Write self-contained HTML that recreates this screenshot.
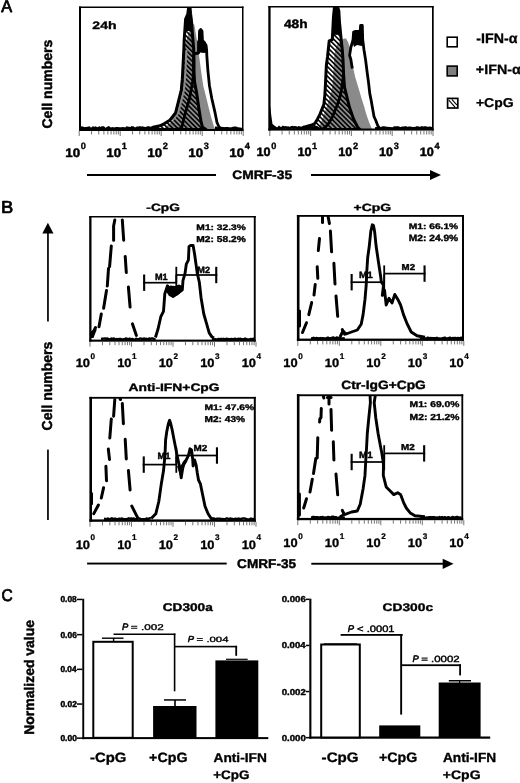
<!DOCTYPE html>
<html><head><meta charset="utf-8"><title>Figure</title>
<style>html,body{margin:0;padding:0;background:#fff;width:520px;height:783px;overflow:hidden}</style>
</head><body>
<svg width="520" height="783" viewBox="0 0 520 783" style="display:block;font-kerning:none;text-rendering:geometricPrecision;filter:grayscale(1)">
<defs>
<pattern id="hatch" patternUnits="userSpaceOnUse" width="3.4" height="3.4" patternTransform="rotate(-45)">
<rect x="0" y="0" width="1.6" height="3.4" fill="#000"/></pattern>
<pattern id="hatchL" patternUnits="userSpaceOnUse" width="3.2" height="3.2" patternTransform="rotate(-45)">
<rect x="0" y="0" width="1.4" height="3.2" fill="#000"/></pattern>
<clipPath id="cA1"><rect x="80" y="7.5" width="162.5" height="122"/></clipPath>
<clipPath id="cA2"><rect x="270" y="7" width="162.5" height="122"/></clipPath>
<clipPath id="cB1"><rect x="91" y="217" width="163.5" height="123"/></clipPath>
<clipPath id="cB2"><rect x="299" y="216" width="163.5" height="123"/></clipPath>
<clipPath id="cB3"><rect x="91" y="398" width="163.5" height="122"/></clipPath>
<clipPath id="cB4"><rect x="299" y="395.5" width="163" height="123"/></clipPath>
</defs>
<g clip-path="url(#cA1)">
<polygon points="163.0,129.5 168.0,125.0 173.0,120.0 176.0,113.0 178.5,100.0 180.6,86.0 183.0,70.0 185.0,47.0 187.0,38.0 189.5,30.0 192.0,25.0 193.4,23.5 194.4,25.0 195.8,33.8 197.8,45.0 199.0,55.3 201.0,70.6 203.3,86.0 206.5,98.5 209.0,109.0 211.3,117.7 214.2,127.3 216.0,129.5" fill="#8a8a8a"/>
<polygon points="148.0,129.5 153.0,127.3 160.0,125.8 164.5,123.6 169.8,120.2 172.8,116.5 175.5,113.0 178.4,101.5 181.3,90.0 182.3,79.2 183.3,60.0 183.8,50.0 184.2,39.6 185.0,28.0 185.6,19.2 187.8,14.0 189.1,4.0 189.7,4.0 190.6,14.0 191.5,21.0 192.5,35.0 193.6,47.7 194.0,60.0 194.0,72.0 194.6,82.0 196.5,92.0 198.8,108.0 201.2,122.5 202.6,127.3 206.0,129.5" fill="url(#hatch)"/>
<polygon points="187.8,14.0 189.1,4.0 189.7,4.0 190.6,14.0 191.5,21.0 192.0,31.0 185.0,31.0 185.6,19.2" fill="#000"/>
<polyline points="172.4,120.2 175.4,116.5 178.1,113.0 181.0,101.5 183.9,90.0 184.9,79.2 185.9,60.0 186.4,50.0" fill="none" stroke="#8a8a8a" stroke-width="2.2"/>
<polygon points="148.0,129.5 153.0,127.3 160.0,125.8 164.5,123.6 169.8,120.2 172.8,116.5 175.5,113.0 178.4,101.5 181.3,90.0 182.3,79.2 183.3,60.0 183.8,50.0 184.2,39.6 185.0,28.0 185.6,19.2 187.8,14.0 189.1,4.0 189.7,4.0 190.6,14.0 191.5,21.0 192.5,35.0 193.6,47.7 194.0,60.0 194.0,72.0 194.6,82.0 196.5,92.0 198.8,108.0 201.2,122.5 202.6,127.3 206.0,129.5" fill="none" stroke="#000" stroke-width="3" stroke-linejoin="round"/>
<polyline points="175.0,129.5 181.5,128.5 183.0,122.5 185.3,113.0 189.6,98.5 192.5,82.0 193.5,75.0 193.6,55.0 195.5,53.5 198.5,53.0 198.5,41.5 199.3,41.0 199.5,31.0 200.8,29.5 202.0,31.0 202.5,41.0 204.0,41.9 206.1,45.4 206.7,51.0 206.8,55.3 207.9,70.6 209.5,86.0 211.8,98.5 215.1,112.9 217.0,122.5 219.0,127.0 222.0,129.5" fill="none" stroke="#000" stroke-width="2.8" stroke-linejoin="round"/>
<polygon points="199.2,30.5 202.0,30.5 202.6,41.0 204.0,41.5 206.3,45.0 206.5,52.5 204.0,53.0 200.0,52.5 198.6,53.0 198.3,45.0 198.6,41.0 199.0,40.5" fill="#000"/>
<polyline points="80.0,128.8 81.3,127.6 82.6,127.8 83.9,128.6 85.2,128.2 86.5,128.3 87.8,128.0 89.1,127.7 90.4,128.8 91.7,129.0 93.0,127.7 94.3,128.3 95.6,127.8 96.9,129.0 98.2,128.3 99.5,127.8 100.8,128.6 102.1,127.5 103.4,127.6 104.7,129.0 106.0,129.0 107.3,128.1 108.6,127.5 109.9,128.4 111.2,128.7 112.5,128.3 113.8,129.0 115.1,128.6 116.4,128.3 117.7,128.2 119.0,128.6 120.3,128.6 121.6,128.6 122.9,128.3 124.2,128.5 125.5,129.0 126.8,127.7 128.1,128.1 129.4,128.0 130.7,128.7 132.0,127.4 133.3,127.6 134.6,128.8 135.9,128.5 137.2,127.8 138.5,127.9 139.8,127.5 141.1,128.3 142.4,127.7 143.7,127.9 145.0,128.5 146.3,128.1 147.6,127.6 148.9,127.6 150.2,128.2 151.5,128.1 152.8,128.9 154.1,128.6 155.4,127.7 156.7,128.3 158.0,128.7 159.3,128.1" fill="none" stroke="#000" stroke-width="2.6"/>
<polyline points="215.0,127.9 216.3,127.9 217.6,128.9 218.9,128.9 220.2,128.0 221.5,128.1 222.8,128.2 224.1,128.6 225.4,128.3 226.7,128.3 228.0,128.3 229.3,128.8 230.6,128.5 231.9,128.5 233.2,128.1 234.5,127.8 235.8,127.9 237.1,128.3 238.4,128.5 239.7,128.7 241.0,129.0 242.3,129.0" fill="none" stroke="#000" stroke-width="2.6"/>
</g>
<g clip-path="url(#cA2)">
<polygon points="318.0,129.5 320.0,125.0 323.5,116.0 327.0,106.0 331.0,93.6 332.5,85.0 333.5,70.0 334.0,60.0 335.0,50.0 337.5,44.0 341.0,40.0 344.4,38.5 346.1,38.5 348.0,42.0 350.0,47.7 350.5,55.0 351.5,60.0 353.0,67.0 355.3,77.5 358.8,89.0 362.2,100.5 364.0,106.0 366.5,115.0 369.0,122.0 371.5,128.0 372.5,129.5" fill="#8a8a8a"/>
<polygon points="298.0,129.5 304.0,127.3 311.0,125.3 314.8,123.5 317.7,118.7 320.1,113.8 322.0,109.0 323.9,104.2 324.9,94.6 325.4,85.0 325.9,75.0 326.4,65.0 327.5,56.9 329.2,40.8 332.3,39.6 333.5,16.5 334.8,4.0 336.5,4.0 338.8,10.8 339.5,22.3 341.2,39.6 342.4,51.0 343.0,60.0 343.7,76.0 344.5,87.0 349.4,107.0 353.5,119.0 357.5,127.0 360.0,129.5" fill="url(#hatch)" stroke="#000" stroke-width="3" stroke-linejoin="round"/>
<polyline points="322.0,129.5 327.5,125.0 331.9,118.0 337.3,105.0 340.5,95.0 342.9,80.0 343.6,75.0" fill="none" stroke="#000" stroke-width="2.8" stroke-linejoin="round"/>
<polyline points="352.3,68.5 350.8,59.2 349.6,55.4 350.8,47.7 353.0,40.0 353.6,32.0 355.0,31.5 358.8,31.5 360.0,33.0 360.6,25.5 362.3,25.5 362.7,39.6 364.0,50.0 365.6,60.0 367.3,73.5 368.6,83.0 369.8,93.6 371.2,100.5 372.3,107.0 373.0,110.8 374.0,116.5 375.6,120.0 378.0,126.2 380.5,129.5" fill="none" stroke="#000" stroke-width="2.8" stroke-linejoin="round"/>
<polygon points="353.5,31.0 358.8,30.5 360.0,33.0 360.5,25.0 362.5,25.0 363.0,40.0 362.0,46.0 357.0,45.0 354.0,47.0 352.5,42.0" fill="#000"/>
<polygon points="333.8,5.0 336.5,5.0 339.2,10.8 339.8,22.3 340.3,34.0 336.0,35.0 333.0,34.0 333.6,16.5" fill="#000"/>
<polygon points="270.0,105.0 271.5,117.0 272.5,124.0 275.0,126.0 275.0,130.0 270.0,130.0" fill="#000"/>
<polyline points="270.0,128.2 271.3,127.7 272.6,128.0 273.9,127.6 275.2,127.6 276.5,128.5 277.8,128.6 279.1,127.3 280.4,128.2 281.7,128.2 283.0,127.0 284.3,127.8 285.6,127.3 286.9,127.8 288.2,127.6 289.5,128.4 290.8,127.6 292.1,127.2 293.4,127.8 294.7,127.4 296.0,127.5 297.3,128.5 298.6,127.4 299.9,127.7 301.2,128.1 302.5,128.6 303.8,127.2 305.1,127.8 306.4,127.4 307.7,127.2 309.0,127.5 310.3,127.1 311.6,128.0 312.9,127.3 314.2,127.9 315.5,127.1 316.8,127.2 318.1,128.4 319.4,128.4" fill="none" stroke="#000" stroke-width="2.6"/>
<polyline points="375.0,128.3 376.3,128.5 377.6,128.1 378.9,128.4 380.2,128.5 381.5,128.1 382.8,127.5 384.1,127.6 385.4,127.7 386.7,128.3 388.0,128.0 389.3,128.3 390.6,128.4 391.9,128.5 393.2,128.3 394.5,127.5 395.8,127.6 397.1,127.6 398.4,127.6 399.7,128.4 401.0,128.2 402.3,127.8 403.6,127.7 404.9,127.6 406.2,127.5 407.5,128.5 408.8,127.9 410.1,127.8 411.4,128.0 412.7,128.4 414.0,128.0 415.3,128.5 416.6,127.5 417.9,127.6 419.2,127.9 420.5,128.2 421.8,127.5 423.1,127.9 424.4,127.5 425.7,127.6 427.0,128.0 428.3,128.1 429.6,127.9 430.9,128.1 432.2,128.4" fill="none" stroke="#000" stroke-width="2.6"/>
</g>
<g clip-path="url(#cB1)">
<polyline points="114.8,220.0 113.6,226.0 113.6,240.2" fill="none" stroke="#000" stroke-width="3.0" stroke-linecap="round" stroke-linejoin="round"/>
<polyline points="111.3,246.0 109.6,266.7" fill="none" stroke="#000" stroke-width="3.0" stroke-linecap="round" stroke-linejoin="round"/>
<polyline points="108.5,268.5 107.3,286.0" fill="none" stroke="#000" stroke-width="3.0" stroke-linecap="round" stroke-linejoin="round"/>
<polyline points="106.5,290.4 103.6,308.3" fill="none" stroke="#000" stroke-width="3.0" stroke-linecap="round" stroke-linejoin="round"/>
<polyline points="101.3,314.0 99.0,326.7" fill="none" stroke="#000" stroke-width="3.0" stroke-linecap="round" stroke-linejoin="round"/>
<polyline points="95.5,327.5 91.8,335.4" fill="none" stroke="#000" stroke-width="3.0" stroke-linecap="round" stroke-linejoin="round"/>
<polyline points="122.3,220.0 123.7,240.2" fill="none" stroke="#000" stroke-width="3.0" stroke-linecap="round" stroke-linejoin="round"/>
<polyline points="125.2,256.4 126.3,272.5" fill="none" stroke="#000" stroke-width="3.0" stroke-linecap="round" stroke-linejoin="round"/>
<polyline points="128.4,287.0 130.1,307.1" fill="none" stroke="#000" stroke-width="3.0" stroke-linecap="round" stroke-linejoin="round"/>
<polyline points="132.4,323.8 136.4,335.4" fill="none" stroke="#000" stroke-width="3.0" stroke-linecap="round" stroke-linejoin="round"/>
<polyline points="101.0,338.9 102.3,338.7 103.6,338.6 104.9,338.5 106.2,338.7 107.5,338.5 108.8,339.6 110.1,339.0 111.4,338.5 112.7,338.8 114.0,338.5 115.3,339.5 116.6,339.0 117.9,339.3 119.2,338.9 120.5,338.9 121.8,339.6 123.1,339.3 124.4,339.3 125.7,338.5 127.0,338.7 128.3,339.4 129.6,338.6 130.9,339.4 132.2,338.9 133.5,339.4 134.8,339.6 136.1,338.6 137.4,339.3 138.7,339.3 140.0,338.4 141.3,338.6 142.6,339.3 143.9,338.4 145.2,339.0 146.5,338.8 147.8,339.4 149.1,338.5 150.4,338.8 151.7,338.4 153.0,338.5 154.3,339.2 155.6,339.2" fill="none" stroke="#000" stroke-width="2.4" stroke-linejoin="round"/>
<polygon points="91.0,338.0 91.0,331.5 94.0,329.0 96.8,329.5 95.0,334.0 93.5,338.0" fill="#000"/>
<polyline points="155.4,337.5 158.1,328.8 160.8,316.7 163.5,311.3 164.8,293.8 167.5,285.8 170.2,293.8 172.9,296.5 176.9,293.8 182.3,289.8 183.0,280.4 185.0,273.6 186.3,264.2 188.4,260.2 189.0,246.7 190.4,245.5 193.1,245.5 194.5,253.5 197.3,273.6 199.3,282.0 201.1,297.9 203.8,314.0 206.5,323.4 209.2,332.9 211.9,336.9 214.0,338.0" fill="none" stroke="#000" stroke-width="2.9" stroke-linejoin="round"/>
<polygon points="167.0,288.0 170.0,285.5 175.0,286.0 179.0,284.5 182.5,286.0 182.5,291.0 178.0,295.0 173.0,297.5 169.0,296.0 166.5,292.0" fill="#000"/>
<polyline points="212.0,338.8 213.3,338.8 214.6,339.1 215.9,339.3 217.2,339.6 218.5,338.9 219.8,339.1 221.1,338.8 222.4,339.2 223.7,338.8 225.0,339.3 226.3,338.8 227.6,338.9 228.9,339.2 230.2,339.1 231.5,338.9 232.8,339.4 234.1,339.0 235.4,338.8 236.7,339.3 238.0,338.8 239.3,338.9 240.6,338.8 241.9,339.3 243.2,339.5 244.5,338.8 245.8,338.8 247.1,339.2 248.4,339.5 249.7,339.4 251.0,339.0 252.3,339.3 253.6,338.6 254.9,339.0" fill="none" stroke="#000" stroke-width="2.4" stroke-linejoin="round"/>
</g>
<g clip-path="url(#cB2)">
<polyline points="322.5,217.0 322.5,222.5" fill="none" stroke="#000" stroke-width="3.0" stroke-linecap="round" stroke-linejoin="round"/>
<polyline points="319.5,238.5 318.3,250.6" fill="none" stroke="#000" stroke-width="3.0" stroke-linecap="round" stroke-linejoin="round"/>
<polyline points="317.2,266.7 317.8,278.3" fill="none" stroke="#000" stroke-width="3.0" stroke-linecap="round" stroke-linejoin="round"/>
<polyline points="315.2,284.6 314.0,295.0" fill="none" stroke="#000" stroke-width="3.0" stroke-linecap="round" stroke-linejoin="round"/>
<polyline points="311.7,302.5 308.8,314.6" fill="none" stroke="#000" stroke-width="3.0" stroke-linecap="round" stroke-linejoin="round"/>
<polyline points="306.5,322.7 302.5,332.5" fill="none" stroke="#000" stroke-width="3.0" stroke-linecap="round" stroke-linejoin="round"/>
<polyline points="299.5,311.0 299.5,326.0" fill="none" stroke="#000" stroke-width="3.0" stroke-linecap="round" stroke-linejoin="round"/>
<polyline points="328.2,217.0 329.4,223.5" fill="none" stroke="#000" stroke-width="3.0" stroke-linecap="round" stroke-linejoin="round"/>
<polyline points="330.4,231.0 331.6,251.8" fill="none" stroke="#000" stroke-width="3.0" stroke-linecap="round" stroke-linejoin="round"/>
<polyline points="333.9,263.3 335.0,284.0" fill="none" stroke="#000" stroke-width="3.0" stroke-linecap="round" stroke-linejoin="round"/>
<polyline points="336.0,296.0 337.7,316.3" fill="none" stroke="#000" stroke-width="3.0" stroke-linecap="round" stroke-linejoin="round"/>
<polyline points="342.3,329.6 344.6,334.2" fill="none" stroke="#000" stroke-width="3.0" stroke-linecap="round" stroke-linejoin="round"/>
<polyline points="311.0,338.2 312.3,338.4 313.6,337.8 314.9,338.5 316.2,338.0 317.5,338.2 318.8,338.5 320.1,338.0 321.4,338.6 322.7,338.1 324.0,338.5 325.3,338.5 326.6,338.1 327.9,337.6 329.2,338.5 330.5,338.3 331.8,337.8 333.1,337.5 334.4,337.9 335.7,338.1 337.0,337.4 338.3,338.5 339.6,337.6 340.9,338.3 342.2,338.4 343.5,338.5 344.8,338.2" fill="none" stroke="#000" stroke-width="2.4" stroke-linejoin="round"/>
<polyline points="340.0,337.0 343.0,331.0 346.0,334.0 351.5,332.0 357.3,330.0 361.2,324.2 363.1,314.6 365.0,299.2 366.2,285.2 366.9,269.8 367.7,257.5 369.2,246.8 370.8,231.4 372.3,224.8 373.5,225.5 374.6,231.4 376.2,246.8 378.5,262.2 380.8,277.5 381.3,282.0 383.5,285.2 382.3,295.4 384.5,290.0 386.2,305.0 389.0,298.3 392.0,303.0 394.8,294.4 397.7,299.2 400.6,305.0 403.5,314.6 407.3,324.2 411.2,332.0 417.0,335.8 425.0,337.3" fill="none" stroke="#000" stroke-width="2.9" stroke-linejoin="round"/>
<polyline points="420.0,338.4 421.3,337.6 422.6,338.5 423.9,337.9 425.2,338.5 426.5,338.4 427.8,337.6 429.1,338.4 430.4,338.0 431.7,338.1 433.0,338.1 434.3,338.1 435.6,338.4 436.9,337.8 438.2,338.5 439.5,338.4 440.8,338.6 442.1,338.3 443.4,338.2 444.7,337.7 446.0,338.2 447.3,338.5 448.6,338.3 449.9,337.6 451.2,338.5 452.5,338.0 453.8,338.2 455.1,337.9 456.4,338.3 457.7,337.9 459.0,338.1 460.3,338.0 461.6,337.7 462.9,338.0" fill="none" stroke="#000" stroke-width="2.4" stroke-linejoin="round"/>
</g>
<g clip-path="url(#cB3)">
<polyline points="114.8,399.5 113.6,416.2" fill="none" stroke="#000" stroke-width="3.0" stroke-linecap="round" stroke-linejoin="round"/>
<polyline points="111.3,419.0 109.8,438.0" fill="none" stroke="#000" stroke-width="3.0" stroke-linecap="round" stroke-linejoin="round"/>
<polyline points="108.3,449.0 109.5,459.4" fill="none" stroke="#000" stroke-width="3.0" stroke-linecap="round" stroke-linejoin="round"/>
<polyline points="105.9,466.3 106.5,480.8" fill="none" stroke="#000" stroke-width="3.0" stroke-linecap="round" stroke-linejoin="round"/>
<polyline points="103.6,487.7 101.3,498.0" fill="none" stroke="#000" stroke-width="3.0" stroke-linecap="round" stroke-linejoin="round"/>
<polyline points="98.4,505.0 93.8,513.6" fill="none" stroke="#000" stroke-width="3.0" stroke-linecap="round" stroke-linejoin="round"/>
<polyline points="91.5,493.5 91.5,503.8" fill="none" stroke="#000" stroke-width="3.0" stroke-linecap="round" stroke-linejoin="round"/>
<polyline points="120.0,398.5 120.5,399.5" fill="none" stroke="#000" stroke-width="3.0" stroke-linecap="round" stroke-linejoin="round"/>
<polyline points="122.3,403.5 123.4,423.7" fill="none" stroke="#000" stroke-width="3.0" stroke-linecap="round" stroke-linejoin="round"/>
<polyline points="125.2,439.3 126.3,458.9" fill="none" stroke="#000" stroke-width="3.0" stroke-linecap="round" stroke-linejoin="round"/>
<polyline points="128.4,470.4 130.1,490.0" fill="none" stroke="#000" stroke-width="3.0" stroke-linecap="round" stroke-linejoin="round"/>
<polyline points="131.8,506.1 137.6,517.7" fill="none" stroke="#000" stroke-width="3.0" stroke-linecap="round" stroke-linejoin="round"/>
<polyline points="104.0,518.8 105.3,519.0 106.6,519.2 107.9,518.4 109.2,519.4 110.5,518.8 111.8,518.3 113.1,519.3 114.4,518.7 115.7,518.7 117.0,519.4 118.3,518.9 119.6,518.6 120.9,518.9 122.2,518.5 123.5,519.2 124.8,519.1 126.1,519.3 127.4,518.8 128.7,518.3 130.0,518.7 131.3,518.5 132.6,518.9 133.9,518.5 135.2,519.3 136.5,519.1 137.8,518.6 139.1,518.5 140.4,518.9 141.7,519.3 143.0,519.1 144.3,519.1 145.6,519.1 146.9,518.4 148.2,519.2 149.5,518.3 150.8,518.3" fill="none" stroke="#000" stroke-width="2.4" stroke-linejoin="round"/>
<polyline points="151.2,518.5 155.8,513.8 158.8,501.5 161.2,484.6 163.5,470.8 165.0,455.4 165.6,440.0 166.7,432.0 168.3,424.0 169.6,420.3 170.8,424.0 172.2,430.0 173.5,437.0 175.5,447.0 177.0,455.0 178.5,462.0 179.8,468.0 181.2,477.7 182.3,470.8 183.8,463.0 186.2,460.0 188.5,455.4 190.0,448.8 191.5,450.0 192.7,459.2 193.1,466.0 194.6,460.0 196.2,465.4 197.3,473.0 198.5,480.0 200.4,483.8 201.5,489.2 205.0,506.2 208.1,513.8 211.2,518.5 214.2,519.0" fill="none" stroke="#000" stroke-width="2.9" stroke-linejoin="round"/>
<polygon points="177.0,466.0 180.5,477.0 183.5,468.0 187.5,461.0 184.0,461.5 180.0,466.0" fill="#000"/>
<polyline points="212.0,518.8 213.3,519.0 214.6,518.8 215.9,519.2 217.2,518.6 218.5,518.6 219.8,518.7 221.1,519.2 222.4,518.9 223.7,519.1 225.0,519.2 226.3,518.4 227.6,518.4 228.9,519.4 230.2,518.5 231.5,518.8 232.8,519.0 234.1,519.1 235.4,518.7 236.7,518.9 238.0,518.7 239.3,518.7 240.6,519.3 241.9,518.6 243.2,518.4 244.5,518.4 245.8,518.8 247.1,519.4 248.4,519.4 249.7,519.3 251.0,518.5 252.3,519.1 253.6,519.0 254.9,518.5" fill="none" stroke="#000" stroke-width="2.4" stroke-linejoin="round"/>
</g>
<g clip-path="url(#cB4)">
<polyline points="323.5,396.5 323.8,398.0" fill="none" stroke="#000" stroke-width="3.0" stroke-linecap="round" stroke-linejoin="round"/>
<polyline points="327.5,397.5 331.0,397.5" fill="none" stroke="#000" stroke-width="3.0" stroke-linecap="round" stroke-linejoin="round"/>
<polyline points="329.0,397.5 329.0,404.0" fill="none" stroke="#000" stroke-width="3.0" stroke-linecap="round" stroke-linejoin="round"/>
<polyline points="321.3,408.5 321.0,417.5 319.8,419.0 319.6,422.0" fill="none" stroke="#000" stroke-width="3.0" stroke-linecap="round" stroke-linejoin="round"/>
<polyline points="317.8,437.7 317.2,457.9" fill="none" stroke="#000" stroke-width="3.0" stroke-linecap="round" stroke-linejoin="round"/>
<polyline points="315.8,458.5 313.5,473.5" fill="none" stroke="#000" stroke-width="3.0" stroke-linecap="round" stroke-linejoin="round"/>
<polyline points="312.3,479.2 310.0,491.9" fill="none" stroke="#000" stroke-width="3.0" stroke-linecap="round" stroke-linejoin="round"/>
<polyline points="306.5,498.8 303.7,508.0" fill="none" stroke="#000" stroke-width="3.0" stroke-linecap="round" stroke-linejoin="round"/>
<polyline points="299.4,494.0 299.4,515.0" fill="none" stroke="#000" stroke-width="3.0" stroke-linecap="round" stroke-linejoin="round"/>
<polyline points="331.0,409.4 331.6,430.2" fill="none" stroke="#000" stroke-width="3.0" stroke-linecap="round" stroke-linejoin="round"/>
<polyline points="333.3,441.7 333.9,460.0" fill="none" stroke="#000" stroke-width="3.0" stroke-linecap="round" stroke-linejoin="round"/>
<polyline points="336.0,474.0 337.7,494.8" fill="none" stroke="#000" stroke-width="3.0" stroke-linecap="round" stroke-linejoin="round"/>
<polyline points="342.3,510.4 344.0,514.0" fill="none" stroke="#000" stroke-width="3.0" stroke-linecap="round" stroke-linejoin="round"/>
<polyline points="311.0,517.4 312.3,517.2 313.6,516.8 314.9,517.3 316.2,517.3 317.5,517.2 318.8,517.7 320.1,517.3 321.4,517.1 322.7,516.9 324.0,517.8 325.3,517.5 326.6,517.8 327.9,516.9 329.2,517.1 330.5,517.8 331.8,516.7 333.1,516.7 334.4,517.1 335.7,517.2 337.0,517.7 338.3,517.9 339.6,517.3 340.9,517.8 342.2,517.7 343.5,517.6 344.8,517.9" fill="none" stroke="#000" stroke-width="2.4" stroke-linejoin="round"/>
<polyline points="340.0,516.7 343.8,514.8 351.5,512.0 357.3,511.0 360.2,504.2 363.1,488.8 365.0,475.4 365.8,460.0 366.5,448.8 367.3,433.5 368.8,418.0 370.4,402.7 370.0,394.0 375.5,394.0 374.2,402.7 375.8,418.0 378.1,433.5 380.4,445.8 381.9,453.5 383.5,464.2 383.3,475.4 386.2,487.0 390.0,490.8 393.8,494.6 397.7,492.7 400.6,494.6 403.5,502.3 406.3,508.0 410.2,512.9 415.0,515.8 425.0,516.6" fill="none" stroke="#000" stroke-width="2.9" stroke-linejoin="round"/>
<polyline points="420.0,517.4 421.3,517.2 422.6,517.2 423.9,517.8 425.2,517.9 426.5,517.5 427.8,517.6 429.1,517.1 430.4,517.2 431.7,517.3 433.0,517.3 434.3,517.2 435.6,517.8 436.9,517.5 438.2,517.7 439.5,517.0 440.8,517.8 442.1,517.1 443.4,517.8 444.7,517.2 446.0,517.6 447.3,517.5 448.6,517.1 449.9,517.9 451.2,517.8 452.5,517.0 453.8,517.4 455.1,517.8 456.4,516.9 457.7,517.0 459.0,517.8 460.3,517.5 461.6,517.8" fill="none" stroke="#000" stroke-width="2.4" stroke-linejoin="round"/>
</g>
<text transform="matrix(0.9469 0 0 1 1.37 12.43)" font-family="Liberation Sans, sans-serif" font-size="17.20" fill="#000" stroke="#000" stroke-width="0.79" stroke-linejoin="round" >A</text>
<rect x="79" y="6.5" width="2" height="124.5" fill="#000"/>
<rect x="79" y="6.5" width="164.5" height="1.5" fill="#000"/>
<rect x="242" y="6.5" width="1.5" height="124.5" fill="#000"/>
<rect x="79" y="129" width="164.5" height="2" fill="#000"/>
<rect x="268.3" y="6" width="2.3000000000000114" height="124.6" fill="#000"/>
<rect x="268.3" y="6" width="165.39999999999998" height="1.5" fill="#000"/>
<rect x="432" y="6" width="1.6999999999999886" height="124.6" fill="#000"/>
<rect x="268.3" y="128.5" width="165.39999999999998" height="2.0999999999999943" fill="#000"/>
<line x1="79.2" y1="131" x2="79.2" y2="136" stroke="#666" stroke-width="0.9" stroke-linecap="butt"/>
<line x1="91.54" y1="131" x2="91.54" y2="134.5" stroke="#666" stroke-width="0.9" stroke-linecap="butt"/>
<line x1="98.76" y1="131" x2="98.76" y2="134.5" stroke="#666" stroke-width="0.9" stroke-linecap="butt"/>
<line x1="103.88" y1="131" x2="103.88" y2="134.5" stroke="#666" stroke-width="0.9" stroke-linecap="butt"/>
<line x1="107.86" y1="131" x2="107.86" y2="134.5" stroke="#666" stroke-width="0.9" stroke-linecap="butt"/>
<line x1="111.1" y1="131" x2="111.1" y2="134.5" stroke="#666" stroke-width="0.9" stroke-linecap="butt"/>
<line x1="113.85" y1="131" x2="113.85" y2="134.5" stroke="#666" stroke-width="0.9" stroke-linecap="butt"/>
<line x1="116.23" y1="131" x2="116.23" y2="134.5" stroke="#666" stroke-width="0.9" stroke-linecap="butt"/>
<line x1="118.32" y1="131" x2="118.32" y2="134.5" stroke="#666" stroke-width="0.9" stroke-linecap="butt"/>
<line x1="120.2" y1="131" x2="120.2" y2="136" stroke="#666" stroke-width="0.9" stroke-linecap="butt"/>
<line x1="132.54" y1="131" x2="132.54" y2="134.5" stroke="#666" stroke-width="0.9" stroke-linecap="butt"/>
<line x1="139.76" y1="131" x2="139.76" y2="134.5" stroke="#666" stroke-width="0.9" stroke-linecap="butt"/>
<line x1="144.88" y1="131" x2="144.88" y2="134.5" stroke="#666" stroke-width="0.9" stroke-linecap="butt"/>
<line x1="148.86" y1="131" x2="148.86" y2="134.5" stroke="#666" stroke-width="0.9" stroke-linecap="butt"/>
<line x1="152.1" y1="131" x2="152.1" y2="134.5" stroke="#666" stroke-width="0.9" stroke-linecap="butt"/>
<line x1="154.85" y1="131" x2="154.85" y2="134.5" stroke="#666" stroke-width="0.9" stroke-linecap="butt"/>
<line x1="157.23" y1="131" x2="157.23" y2="134.5" stroke="#666" stroke-width="0.9" stroke-linecap="butt"/>
<line x1="159.32" y1="131" x2="159.32" y2="134.5" stroke="#666" stroke-width="0.9" stroke-linecap="butt"/>
<line x1="161.2" y1="131" x2="161.2" y2="136" stroke="#666" stroke-width="0.9" stroke-linecap="butt"/>
<line x1="173.54" y1="131" x2="173.54" y2="134.5" stroke="#666" stroke-width="0.9" stroke-linecap="butt"/>
<line x1="180.76" y1="131" x2="180.76" y2="134.5" stroke="#666" stroke-width="0.9" stroke-linecap="butt"/>
<line x1="185.88" y1="131" x2="185.88" y2="134.5" stroke="#666" stroke-width="0.9" stroke-linecap="butt"/>
<line x1="189.86" y1="131" x2="189.86" y2="134.5" stroke="#666" stroke-width="0.9" stroke-linecap="butt"/>
<line x1="193.1" y1="131" x2="193.1" y2="134.5" stroke="#666" stroke-width="0.9" stroke-linecap="butt"/>
<line x1="195.85" y1="131" x2="195.85" y2="134.5" stroke="#666" stroke-width="0.9" stroke-linecap="butt"/>
<line x1="198.23" y1="131" x2="198.23" y2="134.5" stroke="#666" stroke-width="0.9" stroke-linecap="butt"/>
<line x1="200.32" y1="131" x2="200.32" y2="134.5" stroke="#666" stroke-width="0.9" stroke-linecap="butt"/>
<line x1="202.2" y1="131" x2="202.2" y2="136" stroke="#666" stroke-width="0.9" stroke-linecap="butt"/>
<line x1="214.54" y1="131" x2="214.54" y2="134.5" stroke="#666" stroke-width="0.9" stroke-linecap="butt"/>
<line x1="221.76" y1="131" x2="221.76" y2="134.5" stroke="#666" stroke-width="0.9" stroke-linecap="butt"/>
<line x1="226.88" y1="131" x2="226.88" y2="134.5" stroke="#666" stroke-width="0.9" stroke-linecap="butt"/>
<line x1="230.86" y1="131" x2="230.86" y2="134.5" stroke="#666" stroke-width="0.9" stroke-linecap="butt"/>
<line x1="234.1" y1="131" x2="234.1" y2="134.5" stroke="#666" stroke-width="0.9" stroke-linecap="butt"/>
<line x1="236.85" y1="131" x2="236.85" y2="134.5" stroke="#666" stroke-width="0.9" stroke-linecap="butt"/>
<line x1="239.23" y1="131" x2="239.23" y2="134.5" stroke="#666" stroke-width="0.9" stroke-linecap="butt"/>
<line x1="241.32" y1="131" x2="241.32" y2="134.5" stroke="#666" stroke-width="0.9" stroke-linecap="butt"/>
<line x1="243.2" y1="131" x2="243.2" y2="136" stroke="#666" stroke-width="0.9" stroke-linecap="butt"/>
<line x1="269.8" y1="131" x2="269.8" y2="136" stroke="#666" stroke-width="0.9" stroke-linecap="butt"/>
<line x1="282.08" y1="131" x2="282.08" y2="134.5" stroke="#666" stroke-width="0.9" stroke-linecap="butt"/>
<line x1="289.27" y1="131" x2="289.27" y2="134.5" stroke="#666" stroke-width="0.9" stroke-linecap="butt"/>
<line x1="294.36" y1="131" x2="294.36" y2="134.5" stroke="#666" stroke-width="0.9" stroke-linecap="butt"/>
<line x1="298.32" y1="131" x2="298.32" y2="134.5" stroke="#666" stroke-width="0.9" stroke-linecap="butt"/>
<line x1="301.55" y1="131" x2="301.55" y2="134.5" stroke="#666" stroke-width="0.9" stroke-linecap="butt"/>
<line x1="304.28" y1="131" x2="304.28" y2="134.5" stroke="#666" stroke-width="0.9" stroke-linecap="butt"/>
<line x1="306.65" y1="131" x2="306.65" y2="134.5" stroke="#666" stroke-width="0.9" stroke-linecap="butt"/>
<line x1="308.73" y1="131" x2="308.73" y2="134.5" stroke="#666" stroke-width="0.9" stroke-linecap="butt"/>
<line x1="310.6" y1="131" x2="310.6" y2="136" stroke="#666" stroke-width="0.9" stroke-linecap="butt"/>
<line x1="322.88" y1="131" x2="322.88" y2="134.5" stroke="#666" stroke-width="0.9" stroke-linecap="butt"/>
<line x1="330.07" y1="131" x2="330.07" y2="134.5" stroke="#666" stroke-width="0.9" stroke-linecap="butt"/>
<line x1="335.16" y1="131" x2="335.16" y2="134.5" stroke="#666" stroke-width="0.9" stroke-linecap="butt"/>
<line x1="339.12" y1="131" x2="339.12" y2="134.5" stroke="#666" stroke-width="0.9" stroke-linecap="butt"/>
<line x1="342.35" y1="131" x2="342.35" y2="134.5" stroke="#666" stroke-width="0.9" stroke-linecap="butt"/>
<line x1="345.08" y1="131" x2="345.08" y2="134.5" stroke="#666" stroke-width="0.9" stroke-linecap="butt"/>
<line x1="347.45" y1="131" x2="347.45" y2="134.5" stroke="#666" stroke-width="0.9" stroke-linecap="butt"/>
<line x1="349.53" y1="131" x2="349.53" y2="134.5" stroke="#666" stroke-width="0.9" stroke-linecap="butt"/>
<line x1="351.4" y1="131" x2="351.4" y2="136" stroke="#666" stroke-width="0.9" stroke-linecap="butt"/>
<line x1="363.68" y1="131" x2="363.68" y2="134.5" stroke="#666" stroke-width="0.9" stroke-linecap="butt"/>
<line x1="370.87" y1="131" x2="370.87" y2="134.5" stroke="#666" stroke-width="0.9" stroke-linecap="butt"/>
<line x1="375.96" y1="131" x2="375.96" y2="134.5" stroke="#666" stroke-width="0.9" stroke-linecap="butt"/>
<line x1="379.92" y1="131" x2="379.92" y2="134.5" stroke="#666" stroke-width="0.9" stroke-linecap="butt"/>
<line x1="383.15" y1="131" x2="383.15" y2="134.5" stroke="#666" stroke-width="0.9" stroke-linecap="butt"/>
<line x1="385.88" y1="131" x2="385.88" y2="134.5" stroke="#666" stroke-width="0.9" stroke-linecap="butt"/>
<line x1="388.25" y1="131" x2="388.25" y2="134.5" stroke="#666" stroke-width="0.9" stroke-linecap="butt"/>
<line x1="390.33" y1="131" x2="390.33" y2="134.5" stroke="#666" stroke-width="0.9" stroke-linecap="butt"/>
<line x1="392.2" y1="131" x2="392.2" y2="136" stroke="#666" stroke-width="0.9" stroke-linecap="butt"/>
<line x1="404.48" y1="131" x2="404.48" y2="134.5" stroke="#666" stroke-width="0.9" stroke-linecap="butt"/>
<line x1="411.67" y1="131" x2="411.67" y2="134.5" stroke="#666" stroke-width="0.9" stroke-linecap="butt"/>
<line x1="416.76" y1="131" x2="416.76" y2="134.5" stroke="#666" stroke-width="0.9" stroke-linecap="butt"/>
<line x1="420.72" y1="131" x2="420.72" y2="134.5" stroke="#666" stroke-width="0.9" stroke-linecap="butt"/>
<line x1="423.95" y1="131" x2="423.95" y2="134.5" stroke="#666" stroke-width="0.9" stroke-linecap="butt"/>
<line x1="426.68" y1="131" x2="426.68" y2="134.5" stroke="#666" stroke-width="0.9" stroke-linecap="butt"/>
<line x1="429.05" y1="131" x2="429.05" y2="134.5" stroke="#666" stroke-width="0.9" stroke-linecap="butt"/>
<line x1="431.13" y1="131" x2="431.13" y2="134.5" stroke="#666" stroke-width="0.9" stroke-linecap="butt"/>
<line x1="433.0" y1="131" x2="433.0" y2="136" stroke="#666" stroke-width="0.9" stroke-linecap="butt"/>
<text transform="matrix(1.3023 0 0 1 92.36 28.77)" font-family="Liberation Sans, sans-serif" font-weight="bold" font-size="10.76" fill="#000" stroke="#000" stroke-width="0.35" stroke-linejoin="round" >24h</text>
<text transform="matrix(1.1306 0 0 1 283.94 28.47)" font-family="Liberation Sans, sans-serif" font-weight="bold" font-size="12.14" fill="#000" stroke="#000" stroke-width="0.40" stroke-linejoin="round" >48h</text>
<text transform="translate(52.17 127.93) rotate(-90) matrix(1.0018 0 0 1 -0.58 0)" font-family="Liberation Sans, sans-serif" font-weight="bold" font-size="14.01" stroke="#000" stroke-width="0.45" stroke-linejoin="round">Cell numbers</text>
<text transform="matrix(1.0768 0 0 1 65.23 156.95)" font-family="Liberation Sans, sans-serif" font-weight="bold" font-size="12.39" fill="#000" stroke="#000" stroke-width="0.46" stroke-linejoin="round" >10</text>
<text x="80.70" y="149.30" font-family="Liberation Sans, sans-serif" font-weight="bold" font-size="9.20" stroke="#000" stroke-width="0.35">0</text>
<text transform="matrix(1.0768 0 0 1 106.23 156.95)" font-family="Liberation Sans, sans-serif" font-weight="bold" font-size="12.39" fill="#000" stroke="#000" stroke-width="0.46" stroke-linejoin="round" >10</text>
<text x="121.70" y="149.30" font-family="Liberation Sans, sans-serif" font-weight="bold" font-size="9.20" stroke="#000" stroke-width="0.35">1</text>
<text transform="matrix(1.0768 0 0 1 147.23 156.95)" font-family="Liberation Sans, sans-serif" font-weight="bold" font-size="12.39" fill="#000" stroke="#000" stroke-width="0.46" stroke-linejoin="round" >10</text>
<text x="162.70" y="149.30" font-family="Liberation Sans, sans-serif" font-weight="bold" font-size="9.20" stroke="#000" stroke-width="0.35">2</text>
<text transform="matrix(1.0768 0 0 1 188.23 156.95)" font-family="Liberation Sans, sans-serif" font-weight="bold" font-size="12.39" fill="#000" stroke="#000" stroke-width="0.46" stroke-linejoin="round" >10</text>
<text x="203.70" y="149.30" font-family="Liberation Sans, sans-serif" font-weight="bold" font-size="9.20" stroke="#000" stroke-width="0.35">3</text>
<text transform="matrix(1.0768 0 0 1 229.23 156.95)" font-family="Liberation Sans, sans-serif" font-weight="bold" font-size="12.39" fill="#000" stroke="#000" stroke-width="0.46" stroke-linejoin="round" >10</text>
<text x="244.70" y="149.30" font-family="Liberation Sans, sans-serif" font-weight="bold" font-size="9.20" stroke="#000" stroke-width="0.35">4</text>
<text transform="matrix(1.0449 0 0 1 256.58 156.45)" font-family="Liberation Sans, sans-serif" font-weight="bold" font-size="12.10" fill="#000" stroke="#000" stroke-width="0.48" stroke-linejoin="round" >10</text>
<text x="271.30" y="149.00" font-family="Liberation Sans, sans-serif" font-weight="bold" font-size="9.20" stroke="#000" stroke-width="0.35">0</text>
<text transform="matrix(1.0449 0 0 1 297.38 156.45)" font-family="Liberation Sans, sans-serif" font-weight="bold" font-size="12.10" fill="#000" stroke="#000" stroke-width="0.48" stroke-linejoin="round" >10</text>
<text x="312.10" y="149.00" font-family="Liberation Sans, sans-serif" font-weight="bold" font-size="9.20" stroke="#000" stroke-width="0.35">1</text>
<text transform="matrix(1.0449 0 0 1 338.18 156.45)" font-family="Liberation Sans, sans-serif" font-weight="bold" font-size="12.10" fill="#000" stroke="#000" stroke-width="0.48" stroke-linejoin="round" >10</text>
<text x="352.90" y="149.00" font-family="Liberation Sans, sans-serif" font-weight="bold" font-size="9.20" stroke="#000" stroke-width="0.35">2</text>
<text transform="matrix(1.0449 0 0 1 378.98 156.45)" font-family="Liberation Sans, sans-serif" font-weight="bold" font-size="12.10" fill="#000" stroke="#000" stroke-width="0.48" stroke-linejoin="round" >10</text>
<text x="393.70" y="149.00" font-family="Liberation Sans, sans-serif" font-weight="bold" font-size="9.20" stroke="#000" stroke-width="0.35">3</text>
<text transform="matrix(1.0449 0 0 1 419.78 156.45)" font-family="Liberation Sans, sans-serif" font-weight="bold" font-size="12.10" fill="#000" stroke="#000" stroke-width="0.48" stroke-linejoin="round" >10</text>
<text x="434.50" y="149.00" font-family="Liberation Sans, sans-serif" font-weight="bold" font-size="9.20" stroke="#000" stroke-width="0.35">4</text>
<rect x="87" y="174" width="129" height="2" fill="#000"/>
<text transform="matrix(1.1260 0 0 1 232.28 178.53)" font-family="Liberation Sans, sans-serif" font-weight="bold" font-size="12.25" fill="#000" stroke="#000" stroke-width="0.40" stroke-linejoin="round" >CMRF-35</text>
<rect x="311" y="174" width="120" height="2" fill="#000"/>
<polygon points="430,170 441,175 430,180" fill="#000"/>
<rect x="447.2" y="37.2" width="10" height="9.6" fill="#fff" stroke="#000" stroke-width="1.6"/>
<rect x="447.2" y="66.1" width="10" height="9.8" fill="#808080" stroke="#000" stroke-width="1.6"/>
<rect x="447.6" y="98.4" width="10.2" height="9.6" fill="#fff" stroke="#000" stroke-width="1.7"/>
<line x1="448.8" y1="100.2" x2="455" y2="107.2" stroke="#000" stroke-width="1.1"/>
<line x1="451.8" y1="99.4" x2="457" y2="105.2" stroke="#000" stroke-width="1.1"/>
<text transform="matrix(1.0252 0 0 1 476.32 42.95)" font-family="Liberation Sans, sans-serif" font-weight="bold" font-size="13.88" fill="#000" stroke="#000" stroke-width="0.29" stroke-linejoin="round" >-IFN-α</text>
<text transform="matrix(1.0536 0 0 1 475.87 74.05)" font-family="Liberation Sans, sans-serif" font-weight="bold" font-size="13.59" fill="#000" stroke="#000" stroke-width="0.28" stroke-linejoin="round" >+IFN-α</text>
<text transform="matrix(1.0916 0 0 1 475.89 107.25)" font-family="Liberation Sans, sans-serif" font-weight="bold" font-size="12.82" fill="#000" stroke="#000" stroke-width="0.27" stroke-linejoin="round" >+CpG</text>
<text transform="matrix(1.0557 0 0 1 0.89 213.03)" font-family="Liberation Sans, sans-serif" font-size="17.44" fill="#000" stroke="#000" stroke-width="0.71" stroke-linejoin="round" >B</text>
<rect x="47.1" y="232" width="1.7" height="89.5" fill="#000"/>
<polygon points="47.9,222.8 42.3,233.5 53.5,233.5" fill="#000"/>
<text transform="translate(52.17 429.82) rotate(-90) matrix(0.9709 0 0 1 -0.57 0)" font-family="Liberation Sans, sans-serif" font-weight="bold" font-size="14.42" stroke="#000" stroke-width="0.46" stroke-linejoin="round">Cell numbers</text>
<rect x="47.1" y="449.6" width="1.7" height="70.39999999999998" fill="#000"/>
<rect x="89.2" y="216" width="2.299999999999997" height="125.69999999999999" fill="#000"/>
<rect x="89.2" y="216" width="166.5" height="1.5" fill="#000"/>
<rect x="253.8" y="216" width="1.8999999999999773" height="125.69999999999999" fill="#000"/>
<rect x="89.2" y="339.6" width="166.5" height="2.099999999999966" fill="#000"/>
<rect x="296.9" y="215" width="2.6000000000000227" height="125.89999999999998" fill="#000"/>
<rect x="296.9" y="215" width="167.10000000000002" height="1.8000000000000114" fill="#000"/>
<rect x="462" y="215" width="2" height="125.89999999999998" fill="#000"/>
<rect x="296.9" y="338.6" width="167.10000000000002" height="2.2999999999999545" fill="#000"/>
<rect x="89.4" y="396.9" width="2.5999999999999943" height="124.89999999999998" fill="#000"/>
<rect x="89.4" y="396.9" width="166.4" height="1.8000000000000114" fill="#000"/>
<rect x="253.8" y="396.9" width="2.0" height="124.89999999999998" fill="#000"/>
<rect x="89.4" y="519.4" width="166.4" height="2.3999999999999773" fill="#000"/>
<rect x="296.9" y="394.3" width="2.6000000000000227" height="125.90000000000003" fill="#000"/>
<rect x="296.9" y="394.3" width="166.3" height="1.8999999999999773" fill="#000"/>
<rect x="461.4" y="394.3" width="1.8000000000000114" height="125.90000000000003" fill="#000"/>
<rect x="296.9" y="517.9" width="166.3" height="2.300000000000068" fill="#000"/>
<line x1="90.0" y1="341.7" x2="90.0" y2="346.7" stroke="#666" stroke-width="0.9" stroke-linecap="butt"/>
<line x1="102.49" y1="341.7" x2="102.49" y2="345.2" stroke="#666" stroke-width="0.9" stroke-linecap="butt"/>
<line x1="109.8" y1="341.7" x2="109.8" y2="345.2" stroke="#666" stroke-width="0.9" stroke-linecap="butt"/>
<line x1="114.99" y1="341.7" x2="114.99" y2="345.2" stroke="#666" stroke-width="0.9" stroke-linecap="butt"/>
<line x1="119.01" y1="341.7" x2="119.01" y2="345.2" stroke="#666" stroke-width="0.9" stroke-linecap="butt"/>
<line x1="122.29" y1="341.7" x2="122.29" y2="345.2" stroke="#666" stroke-width="0.9" stroke-linecap="butt"/>
<line x1="125.07" y1="341.7" x2="125.07" y2="345.2" stroke="#666" stroke-width="0.9" stroke-linecap="butt"/>
<line x1="127.48" y1="341.7" x2="127.48" y2="345.2" stroke="#666" stroke-width="0.9" stroke-linecap="butt"/>
<line x1="129.6" y1="341.7" x2="129.6" y2="345.2" stroke="#666" stroke-width="0.9" stroke-linecap="butt"/>
<line x1="131.5" y1="341.7" x2="131.5" y2="346.7" stroke="#666" stroke-width="0.9" stroke-linecap="butt"/>
<line x1="143.99" y1="341.7" x2="143.99" y2="345.2" stroke="#666" stroke-width="0.9" stroke-linecap="butt"/>
<line x1="151.3" y1="341.7" x2="151.3" y2="345.2" stroke="#666" stroke-width="0.9" stroke-linecap="butt"/>
<line x1="156.49" y1="341.7" x2="156.49" y2="345.2" stroke="#666" stroke-width="0.9" stroke-linecap="butt"/>
<line x1="160.51" y1="341.7" x2="160.51" y2="345.2" stroke="#666" stroke-width="0.9" stroke-linecap="butt"/>
<line x1="163.79" y1="341.7" x2="163.79" y2="345.2" stroke="#666" stroke-width="0.9" stroke-linecap="butt"/>
<line x1="166.57" y1="341.7" x2="166.57" y2="345.2" stroke="#666" stroke-width="0.9" stroke-linecap="butt"/>
<line x1="168.98" y1="341.7" x2="168.98" y2="345.2" stroke="#666" stroke-width="0.9" stroke-linecap="butt"/>
<line x1="171.1" y1="341.7" x2="171.1" y2="345.2" stroke="#666" stroke-width="0.9" stroke-linecap="butt"/>
<line x1="173.0" y1="341.7" x2="173.0" y2="346.7" stroke="#666" stroke-width="0.9" stroke-linecap="butt"/>
<line x1="185.49" y1="341.7" x2="185.49" y2="345.2" stroke="#666" stroke-width="0.9" stroke-linecap="butt"/>
<line x1="192.8" y1="341.7" x2="192.8" y2="345.2" stroke="#666" stroke-width="0.9" stroke-linecap="butt"/>
<line x1="197.99" y1="341.7" x2="197.99" y2="345.2" stroke="#666" stroke-width="0.9" stroke-linecap="butt"/>
<line x1="202.01" y1="341.7" x2="202.01" y2="345.2" stroke="#666" stroke-width="0.9" stroke-linecap="butt"/>
<line x1="205.29" y1="341.7" x2="205.29" y2="345.2" stroke="#666" stroke-width="0.9" stroke-linecap="butt"/>
<line x1="208.07" y1="341.7" x2="208.07" y2="345.2" stroke="#666" stroke-width="0.9" stroke-linecap="butt"/>
<line x1="210.48" y1="341.7" x2="210.48" y2="345.2" stroke="#666" stroke-width="0.9" stroke-linecap="butt"/>
<line x1="212.6" y1="341.7" x2="212.6" y2="345.2" stroke="#666" stroke-width="0.9" stroke-linecap="butt"/>
<line x1="214.5" y1="341.7" x2="214.5" y2="346.7" stroke="#666" stroke-width="0.9" stroke-linecap="butt"/>
<line x1="226.99" y1="341.7" x2="226.99" y2="345.2" stroke="#666" stroke-width="0.9" stroke-linecap="butt"/>
<line x1="234.3" y1="341.7" x2="234.3" y2="345.2" stroke="#666" stroke-width="0.9" stroke-linecap="butt"/>
<line x1="239.49" y1="341.7" x2="239.49" y2="345.2" stroke="#666" stroke-width="0.9" stroke-linecap="butt"/>
<line x1="243.51" y1="341.7" x2="243.51" y2="345.2" stroke="#666" stroke-width="0.9" stroke-linecap="butt"/>
<line x1="246.79" y1="341.7" x2="246.79" y2="345.2" stroke="#666" stroke-width="0.9" stroke-linecap="butt"/>
<line x1="249.57" y1="341.7" x2="249.57" y2="345.2" stroke="#666" stroke-width="0.9" stroke-linecap="butt"/>
<line x1="251.98" y1="341.7" x2="251.98" y2="345.2" stroke="#666" stroke-width="0.9" stroke-linecap="butt"/>
<line x1="254.1" y1="341.7" x2="254.1" y2="345.2" stroke="#666" stroke-width="0.9" stroke-linecap="butt"/>
<line x1="256.0" y1="341.7" x2="256.0" y2="346.7" stroke="#666" stroke-width="0.9" stroke-linecap="butt"/>
<line x1="297.8" y1="340.9" x2="297.8" y2="345.9" stroke="#666" stroke-width="0.9" stroke-linecap="butt"/>
<line x1="310.29" y1="340.9" x2="310.29" y2="344.4" stroke="#666" stroke-width="0.9" stroke-linecap="butt"/>
<line x1="317.6" y1="340.9" x2="317.6" y2="344.4" stroke="#666" stroke-width="0.9" stroke-linecap="butt"/>
<line x1="322.79" y1="340.9" x2="322.79" y2="344.4" stroke="#666" stroke-width="0.9" stroke-linecap="butt"/>
<line x1="326.81" y1="340.9" x2="326.81" y2="344.4" stroke="#666" stroke-width="0.9" stroke-linecap="butt"/>
<line x1="330.09" y1="340.9" x2="330.09" y2="344.4" stroke="#666" stroke-width="0.9" stroke-linecap="butt"/>
<line x1="332.87" y1="340.9" x2="332.87" y2="344.4" stroke="#666" stroke-width="0.9" stroke-linecap="butt"/>
<line x1="335.28" y1="340.9" x2="335.28" y2="344.4" stroke="#666" stroke-width="0.9" stroke-linecap="butt"/>
<line x1="337.4" y1="340.9" x2="337.4" y2="344.4" stroke="#666" stroke-width="0.9" stroke-linecap="butt"/>
<line x1="339.3" y1="340.9" x2="339.3" y2="345.9" stroke="#666" stroke-width="0.9" stroke-linecap="butt"/>
<line x1="351.79" y1="340.9" x2="351.79" y2="344.4" stroke="#666" stroke-width="0.9" stroke-linecap="butt"/>
<line x1="359.1" y1="340.9" x2="359.1" y2="344.4" stroke="#666" stroke-width="0.9" stroke-linecap="butt"/>
<line x1="364.29" y1="340.9" x2="364.29" y2="344.4" stroke="#666" stroke-width="0.9" stroke-linecap="butt"/>
<line x1="368.31" y1="340.9" x2="368.31" y2="344.4" stroke="#666" stroke-width="0.9" stroke-linecap="butt"/>
<line x1="371.59" y1="340.9" x2="371.59" y2="344.4" stroke="#666" stroke-width="0.9" stroke-linecap="butt"/>
<line x1="374.37" y1="340.9" x2="374.37" y2="344.4" stroke="#666" stroke-width="0.9" stroke-linecap="butt"/>
<line x1="376.78" y1="340.9" x2="376.78" y2="344.4" stroke="#666" stroke-width="0.9" stroke-linecap="butt"/>
<line x1="378.9" y1="340.9" x2="378.9" y2="344.4" stroke="#666" stroke-width="0.9" stroke-linecap="butt"/>
<line x1="380.8" y1="340.9" x2="380.8" y2="345.9" stroke="#666" stroke-width="0.9" stroke-linecap="butt"/>
<line x1="393.29" y1="340.9" x2="393.29" y2="344.4" stroke="#666" stroke-width="0.9" stroke-linecap="butt"/>
<line x1="400.6" y1="340.9" x2="400.6" y2="344.4" stroke="#666" stroke-width="0.9" stroke-linecap="butt"/>
<line x1="405.79" y1="340.9" x2="405.79" y2="344.4" stroke="#666" stroke-width="0.9" stroke-linecap="butt"/>
<line x1="409.81" y1="340.9" x2="409.81" y2="344.4" stroke="#666" stroke-width="0.9" stroke-linecap="butt"/>
<line x1="413.09" y1="340.9" x2="413.09" y2="344.4" stroke="#666" stroke-width="0.9" stroke-linecap="butt"/>
<line x1="415.87" y1="340.9" x2="415.87" y2="344.4" stroke="#666" stroke-width="0.9" stroke-linecap="butt"/>
<line x1="418.28" y1="340.9" x2="418.28" y2="344.4" stroke="#666" stroke-width="0.9" stroke-linecap="butt"/>
<line x1="420.4" y1="340.9" x2="420.4" y2="344.4" stroke="#666" stroke-width="0.9" stroke-linecap="butt"/>
<line x1="422.3" y1="340.9" x2="422.3" y2="345.9" stroke="#666" stroke-width="0.9" stroke-linecap="butt"/>
<line x1="434.79" y1="340.9" x2="434.79" y2="344.4" stroke="#666" stroke-width="0.9" stroke-linecap="butt"/>
<line x1="442.1" y1="340.9" x2="442.1" y2="344.4" stroke="#666" stroke-width="0.9" stroke-linecap="butt"/>
<line x1="447.29" y1="340.9" x2="447.29" y2="344.4" stroke="#666" stroke-width="0.9" stroke-linecap="butt"/>
<line x1="451.31" y1="340.9" x2="451.31" y2="344.4" stroke="#666" stroke-width="0.9" stroke-linecap="butt"/>
<line x1="454.59" y1="340.9" x2="454.59" y2="344.4" stroke="#666" stroke-width="0.9" stroke-linecap="butt"/>
<line x1="457.37" y1="340.9" x2="457.37" y2="344.4" stroke="#666" stroke-width="0.9" stroke-linecap="butt"/>
<line x1="459.78" y1="340.9" x2="459.78" y2="344.4" stroke="#666" stroke-width="0.9" stroke-linecap="butt"/>
<line x1="461.9" y1="340.9" x2="461.9" y2="344.4" stroke="#666" stroke-width="0.9" stroke-linecap="butt"/>
<line x1="463.8" y1="340.9" x2="463.8" y2="345.9" stroke="#666" stroke-width="0.9" stroke-linecap="butt"/>
<line x1="90.0" y1="521.8" x2="90.0" y2="526.8" stroke="#666" stroke-width="0.9" stroke-linecap="butt"/>
<line x1="102.49" y1="521.8" x2="102.49" y2="525.3" stroke="#666" stroke-width="0.9" stroke-linecap="butt"/>
<line x1="109.8" y1="521.8" x2="109.8" y2="525.3" stroke="#666" stroke-width="0.9" stroke-linecap="butt"/>
<line x1="114.99" y1="521.8" x2="114.99" y2="525.3" stroke="#666" stroke-width="0.9" stroke-linecap="butt"/>
<line x1="119.01" y1="521.8" x2="119.01" y2="525.3" stroke="#666" stroke-width="0.9" stroke-linecap="butt"/>
<line x1="122.29" y1="521.8" x2="122.29" y2="525.3" stroke="#666" stroke-width="0.9" stroke-linecap="butt"/>
<line x1="125.07" y1="521.8" x2="125.07" y2="525.3" stroke="#666" stroke-width="0.9" stroke-linecap="butt"/>
<line x1="127.48" y1="521.8" x2="127.48" y2="525.3" stroke="#666" stroke-width="0.9" stroke-linecap="butt"/>
<line x1="129.6" y1="521.8" x2="129.6" y2="525.3" stroke="#666" stroke-width="0.9" stroke-linecap="butt"/>
<line x1="131.5" y1="521.8" x2="131.5" y2="526.8" stroke="#666" stroke-width="0.9" stroke-linecap="butt"/>
<line x1="143.99" y1="521.8" x2="143.99" y2="525.3" stroke="#666" stroke-width="0.9" stroke-linecap="butt"/>
<line x1="151.3" y1="521.8" x2="151.3" y2="525.3" stroke="#666" stroke-width="0.9" stroke-linecap="butt"/>
<line x1="156.49" y1="521.8" x2="156.49" y2="525.3" stroke="#666" stroke-width="0.9" stroke-linecap="butt"/>
<line x1="160.51" y1="521.8" x2="160.51" y2="525.3" stroke="#666" stroke-width="0.9" stroke-linecap="butt"/>
<line x1="163.79" y1="521.8" x2="163.79" y2="525.3" stroke="#666" stroke-width="0.9" stroke-linecap="butt"/>
<line x1="166.57" y1="521.8" x2="166.57" y2="525.3" stroke="#666" stroke-width="0.9" stroke-linecap="butt"/>
<line x1="168.98" y1="521.8" x2="168.98" y2="525.3" stroke="#666" stroke-width="0.9" stroke-linecap="butt"/>
<line x1="171.1" y1="521.8" x2="171.1" y2="525.3" stroke="#666" stroke-width="0.9" stroke-linecap="butt"/>
<line x1="173.0" y1="521.8" x2="173.0" y2="526.8" stroke="#666" stroke-width="0.9" stroke-linecap="butt"/>
<line x1="185.49" y1="521.8" x2="185.49" y2="525.3" stroke="#666" stroke-width="0.9" stroke-linecap="butt"/>
<line x1="192.8" y1="521.8" x2="192.8" y2="525.3" stroke="#666" stroke-width="0.9" stroke-linecap="butt"/>
<line x1="197.99" y1="521.8" x2="197.99" y2="525.3" stroke="#666" stroke-width="0.9" stroke-linecap="butt"/>
<line x1="202.01" y1="521.8" x2="202.01" y2="525.3" stroke="#666" stroke-width="0.9" stroke-linecap="butt"/>
<line x1="205.29" y1="521.8" x2="205.29" y2="525.3" stroke="#666" stroke-width="0.9" stroke-linecap="butt"/>
<line x1="208.07" y1="521.8" x2="208.07" y2="525.3" stroke="#666" stroke-width="0.9" stroke-linecap="butt"/>
<line x1="210.48" y1="521.8" x2="210.48" y2="525.3" stroke="#666" stroke-width="0.9" stroke-linecap="butt"/>
<line x1="212.6" y1="521.8" x2="212.6" y2="525.3" stroke="#666" stroke-width="0.9" stroke-linecap="butt"/>
<line x1="214.5" y1="521.8" x2="214.5" y2="526.8" stroke="#666" stroke-width="0.9" stroke-linecap="butt"/>
<line x1="226.99" y1="521.8" x2="226.99" y2="525.3" stroke="#666" stroke-width="0.9" stroke-linecap="butt"/>
<line x1="234.3" y1="521.8" x2="234.3" y2="525.3" stroke="#666" stroke-width="0.9" stroke-linecap="butt"/>
<line x1="239.49" y1="521.8" x2="239.49" y2="525.3" stroke="#666" stroke-width="0.9" stroke-linecap="butt"/>
<line x1="243.51" y1="521.8" x2="243.51" y2="525.3" stroke="#666" stroke-width="0.9" stroke-linecap="butt"/>
<line x1="246.79" y1="521.8" x2="246.79" y2="525.3" stroke="#666" stroke-width="0.9" stroke-linecap="butt"/>
<line x1="249.57" y1="521.8" x2="249.57" y2="525.3" stroke="#666" stroke-width="0.9" stroke-linecap="butt"/>
<line x1="251.98" y1="521.8" x2="251.98" y2="525.3" stroke="#666" stroke-width="0.9" stroke-linecap="butt"/>
<line x1="254.1" y1="521.8" x2="254.1" y2="525.3" stroke="#666" stroke-width="0.9" stroke-linecap="butt"/>
<line x1="256.0" y1="521.8" x2="256.0" y2="526.8" stroke="#666" stroke-width="0.9" stroke-linecap="butt"/>
<line x1="297.8" y1="520.2" x2="297.8" y2="525.2" stroke="#666" stroke-width="0.9" stroke-linecap="butt"/>
<line x1="310.29" y1="520.2" x2="310.29" y2="523.7" stroke="#666" stroke-width="0.9" stroke-linecap="butt"/>
<line x1="317.6" y1="520.2" x2="317.6" y2="523.7" stroke="#666" stroke-width="0.9" stroke-linecap="butt"/>
<line x1="322.79" y1="520.2" x2="322.79" y2="523.7" stroke="#666" stroke-width="0.9" stroke-linecap="butt"/>
<line x1="326.81" y1="520.2" x2="326.81" y2="523.7" stroke="#666" stroke-width="0.9" stroke-linecap="butt"/>
<line x1="330.09" y1="520.2" x2="330.09" y2="523.7" stroke="#666" stroke-width="0.9" stroke-linecap="butt"/>
<line x1="332.87" y1="520.2" x2="332.87" y2="523.7" stroke="#666" stroke-width="0.9" stroke-linecap="butt"/>
<line x1="335.28" y1="520.2" x2="335.28" y2="523.7" stroke="#666" stroke-width="0.9" stroke-linecap="butt"/>
<line x1="337.4" y1="520.2" x2="337.4" y2="523.7" stroke="#666" stroke-width="0.9" stroke-linecap="butt"/>
<line x1="339.3" y1="520.2" x2="339.3" y2="525.2" stroke="#666" stroke-width="0.9" stroke-linecap="butt"/>
<line x1="351.79" y1="520.2" x2="351.79" y2="523.7" stroke="#666" stroke-width="0.9" stroke-linecap="butt"/>
<line x1="359.1" y1="520.2" x2="359.1" y2="523.7" stroke="#666" stroke-width="0.9" stroke-linecap="butt"/>
<line x1="364.29" y1="520.2" x2="364.29" y2="523.7" stroke="#666" stroke-width="0.9" stroke-linecap="butt"/>
<line x1="368.31" y1="520.2" x2="368.31" y2="523.7" stroke="#666" stroke-width="0.9" stroke-linecap="butt"/>
<line x1="371.59" y1="520.2" x2="371.59" y2="523.7" stroke="#666" stroke-width="0.9" stroke-linecap="butt"/>
<line x1="374.37" y1="520.2" x2="374.37" y2="523.7" stroke="#666" stroke-width="0.9" stroke-linecap="butt"/>
<line x1="376.78" y1="520.2" x2="376.78" y2="523.7" stroke="#666" stroke-width="0.9" stroke-linecap="butt"/>
<line x1="378.9" y1="520.2" x2="378.9" y2="523.7" stroke="#666" stroke-width="0.9" stroke-linecap="butt"/>
<line x1="380.8" y1="520.2" x2="380.8" y2="525.2" stroke="#666" stroke-width="0.9" stroke-linecap="butt"/>
<line x1="393.29" y1="520.2" x2="393.29" y2="523.7" stroke="#666" stroke-width="0.9" stroke-linecap="butt"/>
<line x1="400.6" y1="520.2" x2="400.6" y2="523.7" stroke="#666" stroke-width="0.9" stroke-linecap="butt"/>
<line x1="405.79" y1="520.2" x2="405.79" y2="523.7" stroke="#666" stroke-width="0.9" stroke-linecap="butt"/>
<line x1="409.81" y1="520.2" x2="409.81" y2="523.7" stroke="#666" stroke-width="0.9" stroke-linecap="butt"/>
<line x1="413.09" y1="520.2" x2="413.09" y2="523.7" stroke="#666" stroke-width="0.9" stroke-linecap="butt"/>
<line x1="415.87" y1="520.2" x2="415.87" y2="523.7" stroke="#666" stroke-width="0.9" stroke-linecap="butt"/>
<line x1="418.28" y1="520.2" x2="418.28" y2="523.7" stroke="#666" stroke-width="0.9" stroke-linecap="butt"/>
<line x1="420.4" y1="520.2" x2="420.4" y2="523.7" stroke="#666" stroke-width="0.9" stroke-linecap="butt"/>
<line x1="422.3" y1="520.2" x2="422.3" y2="525.2" stroke="#666" stroke-width="0.9" stroke-linecap="butt"/>
<line x1="434.79" y1="520.2" x2="434.79" y2="523.7" stroke="#666" stroke-width="0.9" stroke-linecap="butt"/>
<line x1="442.1" y1="520.2" x2="442.1" y2="523.7" stroke="#666" stroke-width="0.9" stroke-linecap="butt"/>
<line x1="447.29" y1="520.2" x2="447.29" y2="523.7" stroke="#666" stroke-width="0.9" stroke-linecap="butt"/>
<line x1="451.31" y1="520.2" x2="451.31" y2="523.7" stroke="#666" stroke-width="0.9" stroke-linecap="butt"/>
<line x1="454.59" y1="520.2" x2="454.59" y2="523.7" stroke="#666" stroke-width="0.9" stroke-linecap="butt"/>
<line x1="457.37" y1="520.2" x2="457.37" y2="523.7" stroke="#666" stroke-width="0.9" stroke-linecap="butt"/>
<line x1="459.78" y1="520.2" x2="459.78" y2="523.7" stroke="#666" stroke-width="0.9" stroke-linecap="butt"/>
<line x1="461.9" y1="520.2" x2="461.9" y2="523.7" stroke="#666" stroke-width="0.9" stroke-linecap="butt"/>
<line x1="463.8" y1="520.2" x2="463.8" y2="525.2" stroke="#666" stroke-width="0.9" stroke-linecap="butt"/>
<text transform="matrix(1.0717 0 0 1 75.69 367.12)" font-family="Liberation Sans, sans-serif" font-weight="bold" font-size="12.03" fill="#000" stroke="#000" stroke-width="0.33" stroke-linejoin="round" >10</text>
<text x="90.60" y="359.20" font-family="Liberation Sans, sans-serif" font-weight="bold" font-size="8.20" stroke="#000" stroke-width="0.24">0</text>
<text transform="matrix(1.0717 0 0 1 117.19 367.12)" font-family="Liberation Sans, sans-serif" font-weight="bold" font-size="12.03" fill="#000" stroke="#000" stroke-width="0.33" stroke-linejoin="round" >10</text>
<text x="132.10" y="359.20" font-family="Liberation Sans, sans-serif" font-weight="bold" font-size="8.20" stroke="#000" stroke-width="0.24">1</text>
<text transform="matrix(1.0717 0 0 1 158.69 367.12)" font-family="Liberation Sans, sans-serif" font-weight="bold" font-size="12.03" fill="#000" stroke="#000" stroke-width="0.33" stroke-linejoin="round" >10</text>
<text x="173.60" y="359.20" font-family="Liberation Sans, sans-serif" font-weight="bold" font-size="8.20" stroke="#000" stroke-width="0.24">2</text>
<text transform="matrix(1.0717 0 0 1 200.19 367.12)" font-family="Liberation Sans, sans-serif" font-weight="bold" font-size="12.03" fill="#000" stroke="#000" stroke-width="0.33" stroke-linejoin="round" >10</text>
<text x="215.10" y="359.20" font-family="Liberation Sans, sans-serif" font-weight="bold" font-size="8.20" stroke="#000" stroke-width="0.24">3</text>
<text transform="matrix(1.0717 0 0 1 241.69 367.12)" font-family="Liberation Sans, sans-serif" font-weight="bold" font-size="12.03" fill="#000" stroke="#000" stroke-width="0.33" stroke-linejoin="round" >10</text>
<text x="256.60" y="359.20" font-family="Liberation Sans, sans-serif" font-weight="bold" font-size="8.20" stroke="#000" stroke-width="0.24">4</text>
<text transform="matrix(1.0591 0 0 1 283.29 366.72)" font-family="Liberation Sans, sans-serif" font-weight="bold" font-size="12.17" fill="#000" stroke="#000" stroke-width="0.33" stroke-linejoin="round" >10</text>
<text x="298.20" y="358.80" font-family="Liberation Sans, sans-serif" font-weight="bold" font-size="8.20" stroke="#000" stroke-width="0.24">0</text>
<text transform="matrix(1.0591 0 0 1 324.79 366.72)" font-family="Liberation Sans, sans-serif" font-weight="bold" font-size="12.17" fill="#000" stroke="#000" stroke-width="0.33" stroke-linejoin="round" >10</text>
<text x="339.70" y="358.80" font-family="Liberation Sans, sans-serif" font-weight="bold" font-size="8.20" stroke="#000" stroke-width="0.24">1</text>
<text transform="matrix(1.0591 0 0 1 366.29 366.72)" font-family="Liberation Sans, sans-serif" font-weight="bold" font-size="12.17" fill="#000" stroke="#000" stroke-width="0.33" stroke-linejoin="round" >10</text>
<text x="381.20" y="358.80" font-family="Liberation Sans, sans-serif" font-weight="bold" font-size="8.20" stroke="#000" stroke-width="0.24">2</text>
<text transform="matrix(1.0591 0 0 1 407.79 366.72)" font-family="Liberation Sans, sans-serif" font-weight="bold" font-size="12.17" fill="#000" stroke="#000" stroke-width="0.33" stroke-linejoin="round" >10</text>
<text x="422.70" y="358.80" font-family="Liberation Sans, sans-serif" font-weight="bold" font-size="8.20" stroke="#000" stroke-width="0.24">3</text>
<text transform="matrix(1.0591 0 0 1 449.29 366.72)" font-family="Liberation Sans, sans-serif" font-weight="bold" font-size="12.17" fill="#000" stroke="#000" stroke-width="0.33" stroke-linejoin="round" >10</text>
<text x="464.20" y="358.80" font-family="Liberation Sans, sans-serif" font-weight="bold" font-size="8.20" stroke="#000" stroke-width="0.24">4</text>
<text transform="matrix(1.0468 0 0 1 75.69 548.62)" font-family="Liberation Sans, sans-serif" font-weight="bold" font-size="12.32" fill="#000" stroke="#000" stroke-width="0.33" stroke-linejoin="round" >10</text>
<text x="90.60" y="540.00" font-family="Liberation Sans, sans-serif" font-weight="bold" font-size="8.20" stroke="#000" stroke-width="0.24">0</text>
<text transform="matrix(1.0468 0 0 1 117.19 548.62)" font-family="Liberation Sans, sans-serif" font-weight="bold" font-size="12.32" fill="#000" stroke="#000" stroke-width="0.33" stroke-linejoin="round" >10</text>
<text x="132.10" y="540.00" font-family="Liberation Sans, sans-serif" font-weight="bold" font-size="8.20" stroke="#000" stroke-width="0.24">1</text>
<text transform="matrix(1.0468 0 0 1 158.69 548.62)" font-family="Liberation Sans, sans-serif" font-weight="bold" font-size="12.32" fill="#000" stroke="#000" stroke-width="0.33" stroke-linejoin="round" >10</text>
<text x="173.60" y="540.00" font-family="Liberation Sans, sans-serif" font-weight="bold" font-size="8.20" stroke="#000" stroke-width="0.24">2</text>
<text transform="matrix(1.0468 0 0 1 200.19 548.62)" font-family="Liberation Sans, sans-serif" font-weight="bold" font-size="12.32" fill="#000" stroke="#000" stroke-width="0.33" stroke-linejoin="round" >10</text>
<text x="215.10" y="540.00" font-family="Liberation Sans, sans-serif" font-weight="bold" font-size="8.20" stroke="#000" stroke-width="0.24">3</text>
<text transform="matrix(1.0468 0 0 1 241.69 548.62)" font-family="Liberation Sans, sans-serif" font-weight="bold" font-size="12.32" fill="#000" stroke="#000" stroke-width="0.33" stroke-linejoin="round" >10</text>
<text x="256.60" y="540.00" font-family="Liberation Sans, sans-serif" font-weight="bold" font-size="8.20" stroke="#000" stroke-width="0.24">4</text>
<text transform="matrix(1.0591 0 0 1 283.29 546.53)" font-family="Liberation Sans, sans-serif" font-weight="bold" font-size="12.17" fill="#000" stroke="#000" stroke-width="0.33" stroke-linejoin="round" >10</text>
<text x="298.20" y="538.50" font-family="Liberation Sans, sans-serif" font-weight="bold" font-size="8.20" stroke="#000" stroke-width="0.24">0</text>
<text transform="matrix(1.0591 0 0 1 324.79 546.53)" font-family="Liberation Sans, sans-serif" font-weight="bold" font-size="12.17" fill="#000" stroke="#000" stroke-width="0.33" stroke-linejoin="round" >10</text>
<text x="339.70" y="538.50" font-family="Liberation Sans, sans-serif" font-weight="bold" font-size="8.20" stroke="#000" stroke-width="0.24">1</text>
<text transform="matrix(1.0591 0 0 1 366.29 546.53)" font-family="Liberation Sans, sans-serif" font-weight="bold" font-size="12.17" fill="#000" stroke="#000" stroke-width="0.33" stroke-linejoin="round" >10</text>
<text x="381.20" y="538.50" font-family="Liberation Sans, sans-serif" font-weight="bold" font-size="8.20" stroke="#000" stroke-width="0.24">2</text>
<text transform="matrix(1.0591 0 0 1 407.79 546.53)" font-family="Liberation Sans, sans-serif" font-weight="bold" font-size="12.17" fill="#000" stroke="#000" stroke-width="0.33" stroke-linejoin="round" >10</text>
<text x="422.70" y="538.50" font-family="Liberation Sans, sans-serif" font-weight="bold" font-size="8.20" stroke="#000" stroke-width="0.24">3</text>
<text transform="matrix(1.0591 0 0 1 449.29 546.53)" font-family="Liberation Sans, sans-serif" font-weight="bold" font-size="12.17" fill="#000" stroke="#000" stroke-width="0.33" stroke-linejoin="round" >10</text>
<text x="464.20" y="538.50" font-family="Liberation Sans, sans-serif" font-weight="bold" font-size="8.20" stroke="#000" stroke-width="0.24">4</text>
<text transform="matrix(1.2969 0 0 1 146.31 211.08)" font-family="Liberation Sans, sans-serif" font-weight="bold" font-size="10.60" fill="#000" stroke="#000" stroke-width="0.35" stroke-linejoin="round" >-CpG</text>
<text transform="matrix(1.3401 0 0 1 353.56 210.58)" font-family="Liberation Sans, sans-serif" font-weight="bold" font-size="10.45" fill="#000" stroke="#000" stroke-width="0.34" stroke-linejoin="round" >+CpG</text>
<text transform="matrix(1.2872 0 0 1 128.50 390.57)" font-family="Liberation Sans, sans-serif" font-weight="bold" font-size="10.76" fill="#000" stroke="#000" stroke-width="0.35" stroke-linejoin="round" >Anti-IFN+CpG</text>
<text transform="matrix(1.1472 0 0 1 341.18 389.38)" font-family="Liberation Sans, sans-serif" font-weight="bold" font-size="12.03" fill="#000" stroke="#000" stroke-width="0.39" stroke-linejoin="round" >Ctr-IgG+CpG</text>
<text transform="matrix(1.2752 0 0 1 196.37 230.18)" font-family="Liberation Sans, sans-serif" font-weight="bold" font-size="8.02" fill="#000" stroke="#000" stroke-width="0.35" stroke-linejoin="round" >M1: 32.3%</text>
<text transform="matrix(1.1902 0 0 1 196.37 241.97)" font-family="Liberation Sans, sans-serif" font-weight="bold" font-size="8.59" fill="#000" stroke="#000" stroke-width="0.38" stroke-linejoin="round" >M2: 58.2%</text>
<text transform="matrix(1.2528 0 0 1 408.77 228.88)" font-family="Liberation Sans, sans-serif" font-weight="bold" font-size="8.16" fill="#000" stroke="#000" stroke-width="0.36" stroke-linejoin="round" >M1: 66.1%</text>
<text transform="matrix(1.1335 0 0 1 408.77 241.18)" font-family="Liberation Sans, sans-serif" font-weight="bold" font-size="9.02" fill="#000" stroke="#000" stroke-width="0.40" stroke-linejoin="round" >M2: 24.9%</text>
<text transform="matrix(1.2606 0 0 1 204.46 410.17)" font-family="Liberation Sans, sans-serif" font-weight="bold" font-size="8.16" fill="#000" stroke="#000" stroke-width="0.36" stroke-linejoin="round" >M1: 47.6%</text>
<text transform="matrix(1.1821 0 0 1 204.47 421.97)" font-family="Liberation Sans, sans-serif" font-weight="bold" font-size="8.59" fill="#000" stroke="#000" stroke-width="0.38" stroke-linejoin="round" >M2: 43%</text>
<text transform="matrix(1.2203 0 0 1 409.56 407.47)" font-family="Liberation Sans, sans-serif" font-weight="bold" font-size="8.45" fill="#000" stroke="#000" stroke-width="0.37" stroke-linejoin="round" >M1: 69.0%</text>
<text transform="matrix(1.1803 0 0 1 409.56 419.57)" font-family="Liberation Sans, sans-serif" font-weight="bold" font-size="8.74" fill="#000" stroke="#000" stroke-width="0.38" stroke-linejoin="round" >M2: 21.2%</text>
<rect x="143.1" y="281.84999999999997" width="33.20000000000002" height="1.7" fill="#000"/>
<rect x="176.3" y="274.15" width="41.0" height="1.7" fill="#000"/>
<rect x="143.1" y="274.5" width="2.1" height="16.4" fill="#000"/>
<rect x="175.4" y="266.8" width="1.8" height="16.4" fill="#000"/>
<rect x="175.4" y="274.5" width="1.8" height="16.4" fill="#000"/>
<rect x="215.20000000000002" y="266.8" width="2.1" height="16.4" fill="#000"/>
<rect x="350.6" y="281.34999999999997" width="33.599999999999966" height="1.7" fill="#000"/>
<rect x="384.2" y="272.75" width="41.400000000000034" height="1.7" fill="#000"/>
<rect x="350.6" y="274.0" width="2.1" height="16.4" fill="#000"/>
<rect x="383.3" y="265.40000000000003" width="1.8" height="16.4" fill="#000"/>
<rect x="383.3" y="274.0" width="1.8" height="16.4" fill="#000"/>
<rect x="423.5" y="265.40000000000003" width="2.1" height="16.4" fill="#000"/>
<rect x="142.7" y="463.75" width="33.60000000000002" height="1.7" fill="#000"/>
<rect x="176.3" y="454.65" width="41.69999999999999" height="1.7" fill="#000"/>
<rect x="142.7" y="456.40000000000003" width="2.1" height="16.4" fill="#000"/>
<rect x="175.4" y="447.3" width="1.8" height="16.4" fill="#000"/>
<rect x="175.4" y="456.40000000000003" width="1.8" height="16.4" fill="#000"/>
<rect x="215.9" y="447.3" width="2.1" height="16.4" fill="#000"/>
<rect x="350.6" y="461.15" width="33.599999999999966" height="1.7" fill="#000"/>
<rect x="384.2" y="452.54999999999995" width="41.0" height="1.7" fill="#000"/>
<rect x="350.6" y="453.8" width="2.1" height="16.4" fill="#000"/>
<rect x="383.3" y="445.2" width="1.8" height="16.4" fill="#000"/>
<rect x="383.3" y="453.8" width="1.8" height="16.4" fill="#000"/>
<rect x="423.09999999999997" y="445.2" width="2.1" height="16.4" fill="#000"/>
<text transform="matrix(1.0116 0 0 1 154.94 279.88)" font-family="Liberation Sans, sans-serif" font-weight="bold" font-size="9.01" fill="#000" stroke="#000" stroke-width="0.44" stroke-linejoin="round" >M1</text>
<text transform="matrix(1.0113 0 0 1 197.34 272.97)" font-family="Liberation Sans, sans-serif" font-weight="bold" font-size="9.02" fill="#000" stroke="#000" stroke-width="0.44" stroke-linejoin="round" >M2</text>
<text transform="matrix(1.0799 0 0 1 358.89 278.27)" font-family="Liberation Sans, sans-serif" font-weight="bold" font-size="9.16" fill="#000" stroke="#000" stroke-width="0.42" stroke-linejoin="round" >M1</text>
<text transform="matrix(1.1254 0 0 1 401.60 269.97)" font-family="Liberation Sans, sans-serif" font-weight="bold" font-size="8.59" fill="#000" stroke="#000" stroke-width="0.40" stroke-linejoin="round" >M2</text>
<text transform="matrix(1.0459 0 0 1 157.42 459.38)" font-family="Liberation Sans, sans-serif" font-weight="bold" font-size="9.01" fill="#000" stroke="#000" stroke-width="0.43" stroke-linejoin="round" >M1</text>
<text transform="matrix(1.1337 0 0 1 193.39 450.57)" font-family="Liberation Sans, sans-serif" font-weight="bold" font-size="8.74" fill="#000" stroke="#000" stroke-width="0.40" stroke-linejoin="round" >M2</text>
<text transform="matrix(1.0799 0 0 1 358.89 457.77)" font-family="Liberation Sans, sans-serif" font-weight="bold" font-size="9.16" fill="#000" stroke="#000" stroke-width="0.42" stroke-linejoin="round" >M1</text>
<text transform="matrix(1.1526 0 0 1 400.89 449.77)" font-family="Liberation Sans, sans-serif" font-weight="bold" font-size="8.59" fill="#000" stroke="#000" stroke-width="0.39" stroke-linejoin="round" >M2</text>
<rect x="87.1" y="562.6" width="139.6" height="1.9" fill="#000"/>
<text transform="matrix(1.0670 0 0 1 237.09 568.07)" font-family="Liberation Sans, sans-serif" font-weight="bold" font-size="12.75" fill="#000" stroke="#000" stroke-width="0.42" stroke-linejoin="round" >CMRF-35</text>
<rect x="311.3" y="562.8" width="131.7" height="1.9" fill="#000"/>
<polygon points="442.7,558.7 453.6,563.8 442.7,569" fill="#000"/>
<text transform="matrix(0.9149 0 0 1 1.39 600.95)" font-family="Liberation Sans, sans-serif" font-size="17.00" fill="#000" stroke="#000" stroke-width="0.77" stroke-linejoin="round" >C</text>
<text transform="translate(34.48 733.83) rotate(-90) matrix(1.0069 0 0 1 -0.93 0)" font-family="Liberation Sans, sans-serif" font-weight="bold" font-size="13.87" stroke="#000" stroke-width="0.45" stroke-linejoin="round">Normalized value</text>
<rect x="82.3" y="598.8" width="1.9" height="140.4000000000001" fill="#000"/>
<rect x="82.3" y="737.1" width="186.0" height="2.0" fill="#000"/>
<rect x="77.0" y="598.6999999999999" width="5.5" height="1.5" fill="#000"/>
<text transform="matrix(0.9801 0 0 1 60.42 602.47)" font-family="Liberation Sans, sans-serif" font-weight="bold" font-size="8.59" fill="#000" stroke="#000" stroke-width="0.46" stroke-linejoin="round" >0.08</text>
<rect x="77.0" y="633.9" width="5.5" height="1.5" fill="#000"/>
<text transform="matrix(0.9829 0 0 1 60.42 637.67)" font-family="Liberation Sans, sans-serif" font-weight="bold" font-size="8.59" fill="#000" stroke="#000" stroke-width="0.46" stroke-linejoin="round" >0.06</text>
<rect x="77.0" y="668.5999999999999" width="5.5" height="1.5" fill="#000"/>
<text transform="matrix(0.9670 0 0 1 60.42 672.37)" font-family="Liberation Sans, sans-serif" font-weight="bold" font-size="8.59" fill="#000" stroke="#000" stroke-width="0.47" stroke-linejoin="round" >0.04</text>
<rect x="77.0" y="703.3" width="5.5" height="1.5" fill="#000"/>
<text transform="matrix(0.9850 0 0 1 60.42 707.07)" font-family="Liberation Sans, sans-serif" font-weight="bold" font-size="8.59" fill="#000" stroke="#000" stroke-width="0.46" stroke-linejoin="round" >0.02</text>
<rect x="77.0" y="737.4" width="5.5" height="1.5" fill="#000"/>
<text transform="matrix(0.9855 0 0 1 60.42 741.17)" font-family="Liberation Sans, sans-serif" font-weight="bold" font-size="8.59" fill="#000" stroke="#000" stroke-width="0.46" stroke-linejoin="round" >0.00</text>
<rect x="93.3" y="641.8" width="39.4" height="96" fill="#fff" stroke="#000" stroke-width="2"/>
<rect x="153.1" y="706.0" width="43.400000000000006" height="32" fill="#000"/>
<rect x="215.4" y="660.4" width="42.900000000000006" height="77.60000000000002" fill="#000"/>
<rect x="112.9" y="638" width="1.4" height="3" fill="#000"/>
<rect x="101.9" y="637.5" width="21.6" height="1.4" fill="#000"/>
<rect x="174.2" y="700" width="1.6" height="6.5" fill="#000"/>
<rect x="164" y="699.2" width="22" height="1.5" fill="#000"/>
<rect x="226" y="658.7" width="21.7" height="1.2" fill="#000"/>
<rect x="113.5" y="633.5" width="61.900000000000006" height="1.5" fill="#000"/>
<rect x="173.8" y="633.5" width="1.6" height="57.799999999999955" fill="#000"/>
<rect x="174.2" y="645.8" width="62.900000000000006" height="1.6" fill="#000"/>
<rect x="235.3" y="645.8" width="1.8" height="10.0" fill="#000"/>
<text transform="matrix(1.0069 0 0 1 122.01 629.93)" font-family="Liberation Sans, sans-serif" font-style="italic" font-size="9.30" fill="#000" stroke="#000" stroke-width="0.55" stroke-linejoin="round" >P</text>
<text transform="matrix(1.3989 0 0 1 130.80 629.95)" font-family="Liberation Sans, sans-serif" font-size="8.38" fill="#000" stroke="#000" stroke-width="0.36" stroke-linejoin="round" >= .002</text>
<text transform="matrix(1.0922 0 0 1 187.81 642.02)" font-family="Liberation Sans, sans-serif" font-style="italic" font-size="8.58" fill="#000" stroke="#000" stroke-width="0.50" stroke-linejoin="round" >P</text>
<text transform="matrix(1.4796 0 0 1 196.62 642.05)" font-family="Liberation Sans, sans-serif" font-size="7.66" fill="#000" stroke="#000" stroke-width="0.34" stroke-linejoin="round" >= .004</text>
<text transform="matrix(1.2193 0 0 1 162.79 611.27)" font-family="Liberation Sans, sans-serif" font-weight="bold" font-size="11.17" fill="#000" stroke="#000" stroke-width="0.37" stroke-linejoin="round" >CD300a</text>
<text transform="matrix(1.1066 0 0 1 89.92 762.43)" font-family="Liberation Sans, sans-serif" font-weight="bold" font-size="13.46" fill="#000" stroke="#000" stroke-width="0.32" stroke-linejoin="round" >-CpG</text>
<text transform="matrix(1.0608 0 0 1 149.10 762.43)" font-family="Liberation Sans, sans-serif" font-weight="bold" font-size="13.46" fill="#000" stroke="#000" stroke-width="0.33" stroke-linejoin="round" >+CpG</text>
<text transform="matrix(1.0716 0 0 1 213.46 762.33)" font-family="Liberation Sans, sans-serif" font-weight="bold" font-size="12.83" fill="#000" stroke="#000" stroke-width="0.33" stroke-linejoin="round" >Anti-IFN</text>
<text transform="matrix(1.0937 0 0 1 213.23 778.62)" font-family="Liberation Sans, sans-serif" font-weight="bold" font-size="12.32" fill="#000" stroke="#000" stroke-width="0.32" stroke-linejoin="round" >+CpG</text>
<rect x="309.3" y="598.7" width="2.1" height="140.0999999999999" fill="#000"/>
<rect x="309.3" y="736.5" width="180.89999999999998" height="2.2" fill="#000"/>
<rect x="306.0" y="598.5999999999999" width="3.5" height="1.5" fill="#000"/>
<text transform="matrix(1.1221 0 0 1 281.67 602.37)" font-family="Liberation Sans, sans-serif" font-weight="bold" font-size="8.59" fill="#000" stroke="#000" stroke-width="0.40" stroke-linejoin="round" >0.006</text>
<rect x="306.0" y="644.6999999999999" width="3.5" height="1.5" fill="#000"/>
<text transform="matrix(1.1081 0 0 1 281.67 648.47)" font-family="Liberation Sans, sans-serif" font-weight="bold" font-size="8.59" fill="#000" stroke="#000" stroke-width="0.41" stroke-linejoin="round" >0.004</text>
<rect x="306.0" y="690.8" width="3.5" height="1.5" fill="#000"/>
<text transform="matrix(1.1239 0 0 1 281.67 694.57)" font-family="Liberation Sans, sans-serif" font-weight="bold" font-size="8.59" fill="#000" stroke="#000" stroke-width="0.40" stroke-linejoin="round" >0.002</text>
<rect x="306.0" y="736.9" width="3.5" height="1.5" fill="#000"/>
<text transform="matrix(1.1244 0 0 1 281.67 740.67)" font-family="Liberation Sans, sans-serif" font-weight="bold" font-size="8.59" fill="#000" stroke="#000" stroke-width="0.40" stroke-linejoin="round" >0.000</text>
<rect x="321.2" y="644.5" width="38.6" height="93" fill="#fff" stroke="#000" stroke-width="2"/>
<rect x="324" y="643.3" width="33" height="1.4" fill="#000"/>
<rect x="379.2" y="725.4" width="41.10000000000002" height="11.600000000000023" fill="#000"/>
<rect x="438.7" y="682.5" width="41.900000000000034" height="54.5" fill="#000"/>
<rect x="448.8" y="680.0" width="22.2" height="1.5" fill="#000"/>
<rect x="459" y="680" width="1.2" height="3" fill="#000"/>
<rect x="340.6" y="634.0" width="62.099999999999966" height="1.8" fill="#000"/>
<rect x="400.2" y="634.0" width="1.9" height="80.60000000000002" fill="#000"/>
<rect x="400.8" y="664.3" width="60.19999999999999" height="1.8" fill="#000"/>
<rect x="459.2" y="664.3" width="1.8" height="11.100000000000023" fill="#000"/>
<text transform="matrix(0.9618 0 0 1 347.81 632.23)" font-family="Liberation Sans, sans-serif" font-style="italic" font-size="9.74" fill="#000" stroke="#000" stroke-width="0.57" stroke-linejoin="round" >P</text>
<text transform="matrix(1.1897 0 0 1 357.02 632.25)" font-family="Liberation Sans, sans-serif" font-size="9.38" fill="#000" stroke="#000" stroke-width="0.42" stroke-linejoin="round" >< .0001</text>
<text transform="matrix(0.9764 0 0 1 412.41 661.73)" font-family="Liberation Sans, sans-serif" font-style="italic" font-size="9.59" fill="#000" stroke="#000" stroke-width="0.56" stroke-linejoin="round" >P</text>
<text transform="matrix(1.2780 0 0 1 421.22 661.75)" font-family="Liberation Sans, sans-serif" font-size="8.95" fill="#000" stroke="#000" stroke-width="0.39" stroke-linejoin="round" >= .0002</text>
<text transform="matrix(1.2499 0 0 1 382.58 611.27)" font-family="Liberation Sans, sans-serif" font-weight="bold" font-size="11.03" fill="#000" stroke="#000" stroke-width="0.36" stroke-linejoin="round" >CD300c</text>
<text transform="matrix(1.1021 0 0 1 321.61 762.03)" font-family="Liberation Sans, sans-serif" font-weight="bold" font-size="13.75" fill="#000" stroke="#000" stroke-width="0.32" stroke-linejoin="round" >-CpG</text>
<text transform="matrix(1.0331 0 0 1 378.90 762.03)" font-family="Liberation Sans, sans-serif" font-weight="bold" font-size="13.75" fill="#000" stroke="#000" stroke-width="0.34" stroke-linejoin="round" >+CpG</text>
<text transform="matrix(1.0321 0 0 1 442.96 762.03)" font-family="Liberation Sans, sans-serif" font-weight="bold" font-size="13.25" fill="#000" stroke="#000" stroke-width="0.34" stroke-linejoin="round" >Anti-IFN</text>
<text transform="matrix(1.1407 0 0 1 442.71 778.83)" font-family="Liberation Sans, sans-serif" font-weight="bold" font-size="12.32" fill="#000" stroke="#000" stroke-width="0.31" stroke-linejoin="round" >+CpG</text>
</svg>
</body></html>
